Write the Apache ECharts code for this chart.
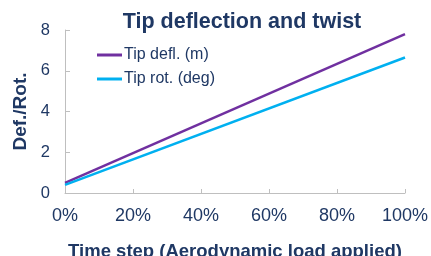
<!DOCTYPE html>
<html>
<head>
<meta charset="utf-8">
<script src="https://cdn.jsdelivr.net/npm/echarts@6/dist/echarts.min.js"></script>
<style>
html,body{margin:0;padding:0;background:#fff;}
#chart{width:431px;height:256px;}
</style>
</head>
<body>
<div id="chart"></div>
<script>
// Data
var xSteps = [0, 100];              // time step (%)
var tipDefl = [0.5, 7.8];           // Tip defl. (m)
var tipRot = [0.4, 6.65];           // Tip rot. (deg)
var seriesNames = ['Tip defl. (m)', 'Tip rot. (deg)'];
var yTicks = [0, 2, 4, 6, 8];

var navy = '#1f3864';
var font = 'Liberation Sans, Arial, sans-serif';

function pairs(xs, ys) { return xs.map(function (x, i) { return [x, ys[i]]; }); }

var chart = echarts.init(document.getElementById('chart'), null, {renderer: 'canvas'});
chart.setOption({
  animation: false,
  backgroundColor: '#ffffff',
  title: {
    text: 'Tip deflection and twist',
    left: 237, top: 6, textAlign: 'center',
    textStyle: {fontFamily: font, fontSize: 21.5, fontWeight: 'bold', color: navy}
  },
  legend: {
    orient: 'vertical', left: 92, top: 42,
    itemWidth: 25, itemHeight: 3, itemGap: 8,
    icon: 'rect',
    textStyle: {fontFamily: font, fontSize: 16, color: navy, lineHeight: 16, padding: [0, 0, 0, -3]},
    data: seriesNames
  },
  grid: {left: 65, right: 26, top: 30, bottom: 63, containLabel: false, outerBoundsMode: 'none'},
  xAxis: {
    type: 'value', min: 0, max: 100, interval: 20,
    name: 'Time step (Aerodynamic load applied)',
    nameLocation: 'middle', nameGap: 49,
    nameTextStyle: {fontFamily: font, fontSize: 18.5, fontWeight: 'bold', color: navy},
    axisLine: {show: true, lineStyle: {color: '#bfbfbf', width: 1}},
    axisTick: {show: true, inside: true, length: 4, lineStyle: {color: '#bfbfbf'}},
    axisLabel: {formatter: '{value}%', fontFamily: font, fontSize: 18, color: navy, margin: 14},
    splitLine: {show: false}
  },
  yAxis: {
    type: 'value', min: yTicks[0], max: yTicks[yTicks.length - 1], interval: 2,
    name: 'Def./Rot.',
    nameLocation: 'middle', nameGap: 35, nameRotate: 90,
    nameTextStyle: {fontFamily: font, fontSize: 19, fontWeight: 'bold', color: navy},
    axisLine: {show: true, lineStyle: {color: '#bfbfbf', width: 1}},
    axisTick: {show: true, inside: true, length: 5, lineStyle: {color: '#bfbfbf'}},
    axisLabel: {fontFamily: font, fontSize: 16.5, color: navy, margin: 15},
    splitLine: {show: false}
  },
  series: [
    {name: seriesNames[0], type: 'line', data: pairs(xSteps, tipDefl), showSymbol: false,
     lineStyle: {color: '#7030a0', width: 2.5}, itemStyle: {color: '#7030a0'}},
    {name: seriesNames[1], type: 'line', data: pairs(xSteps, tipRot), showSymbol: false,
     lineStyle: {color: '#00b0f0', width: 2.5}, itemStyle: {color: '#00b0f0'}}
  ]
});
</script>
</body>
</html>
